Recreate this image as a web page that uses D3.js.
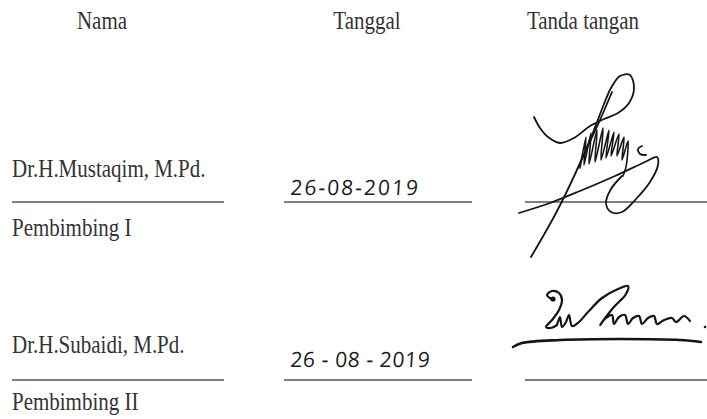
<!DOCTYPE html>
<html lang="id">
<head>
<meta charset="UTF-8">
<title>Lembar Pengesahan</title>
<script src="https://d3js.org/d3.v7.min.js"></script>
<style>
  body { margin: 0; background: #fff; }
  .print { font-family: "Liberation Serif", "Times New Roman", serif; fill: #333; font-size: 21px; }
  .rule { stroke: #555; stroke-width: 1.4; }
  .hand { font-family: "Open Sans", "DejaVu Sans", sans-serif; fill: #1a1a1a; font-size: 21px; font-weight: 400; }
  .ink { fill: none; stroke: #151515; stroke-linecap: round; stroke-linejoin: round; }
</style>
</head>
<body>
<script>
  // content
  const headers = ['Nama', 'Tanggal', 'Tanda tangan'];
  const names = ['Dr.H.Mustaqim, M.Pd.', 'Dr.H.Subaidi, M.Pd.'];
  const roles = ['Pembimbing I', 'Pembimbing II'];
  const dates = ['26-08-2019', '26 - 08 - 2019'];

  // signature strokes (pen points, page pixels)
  const sign1 = [
    [[534,117],[540,128],[548,137],[560,143],[574,138],[590,126],[604,119],[618,113],[629,103],[634,88],[630,75],[620,76],[611,88],[604,104],[592,135],[576,172],[556,213],[531,257]],
    [[612,92],[600,120],[588,146],[578,168]],
    [[580,168],[586,137],[584,165],[591,133],[589,164],[597,130],[595,162],[603,128],[601,160],[609,130],[606,158],[614,132],[611,156],[619,134],[617,156],[624,137],[622,160],[628,141],[626,167],[623,176]],
    [[642,146],[638,149],[640,154],[646,155]],
    [[519,213],[550,203],[580,191],[615,176],[645,162],[657,157],[658,165],[650,182],[636,199],[622,212],[611,212],[606,203],[611,189],[622,176]]
  ];
  const sign2 = [
    [[553,300],[547,295],[552,291],[559,293],[562,300],[559,310],[552,320],[546,327],[551,328],[557,325]],
    [[557,325],[560,317],[562,327],[566,322],[569,315],[572,326],[579,322],[588,312],[602,298],[618,289],[628,286],[626,294],[613,308],[600,325],[606,318],[612,315],[614,324],[619,317],[625,315],[628,324],[633,318],[639,316],[642,324],[648,318],[654,316],[657,324],[664,320],[672,318],[676,322],[684,316],[690,321]],
    [[513,347],[522,343],[560,340],[620,339],[680,340],[701,342]]
  ];
  const dots2 = [[705,327]];

  // layout
  const W = 707, H = 419;
  const colCenter = [102, 367, 583];
  const colRule = [[12, 224], [284, 472], [525, 707]];
  const headerY = 29;
  const rowName = [177, 353];
  const rowRule = [202, 380];
  const rowRole = [236, 410];
  const rowDate = [195, 367];

  const svg = d3.select('body').append('svg')
    .attr('width', W).attr('height', H);

  const stretch = 'scale(1,1.15)';

  svg.selectAll('text.head')
    .data(headers)
    .enter().append('text')
    .attr('class', 'print head')
    .attr('text-anchor', 'middle')
    .attr('transform', (d, i) => `translate(${colCenter[i]},${headerY}) ${stretch}`)
    .text(d => d);

  const rows = svg.selectAll('g.row')
    .data(names)
    .enter().append('g')
    .attr('class', 'row');

  rows.append('text')
    .attr('class', 'print')
    .attr('transform', (d, i) => `translate(${colRule[0][0]},${rowName[i]}) ${stretch}`)
    .text(d => d);

  rows.append('text')
    .attr('class', 'print')
    .attr('transform', (d, i) => `translate(${colRule[0][0]},${rowRole[i]}) ${stretch}`)
    .text((d, i) => roles[i]);

  rows.append('text')
    .attr('class', 'hand')
    .attr('transform', (d, i) => `translate(${290},${rowDate[i]}) skewX(-4)`)
    .attr('letter-spacing', (d, i) => i === 0 ? 2.0 : 0.6)
    .text((d, i) => dates[i]);

  rows.each(function (d, i) {
    d3.select(this).selectAll('line')
      .data(colRule)
      .enter().append('line')
      .attr('class', 'rule')
      .attr('x1', c => c[0]).attr('x2', c => c[1])
      .attr('y1', rowRule[i]).attr('y2', rowRule[i]);
  });

  const pen = d3.line().curve(d3.curveCatmullRom.alpha(0.5));

  svg.append('g').selectAll('path')
    .data(sign1)
    .enter().append('path')
    .attr('class', 'ink')
    .attr('stroke-width', (d, i) => i === 2 ? 1.6 : 1.8)
    .attr('d', pen);

  svg.append('g').selectAll('path')
    .data(sign2)
    .enter().append('path')
    .attr('class', 'ink')
    .attr('stroke-width', (d, i) => i === 2 ? 2.6 : 2.2)
    .attr('d', pen);

  svg.append('g').selectAll('circle')
    .data(dots2.concat([[553, 299]]))
    .enter().append('circle')
    .attr('cx', d => d[0]).attr('cy', d => d[1])
    .attr('r', (d, i) => i === 0 ? 1.3 : 2.6)
    .attr('fill', '#151515');
</script>
</body>
</html>
